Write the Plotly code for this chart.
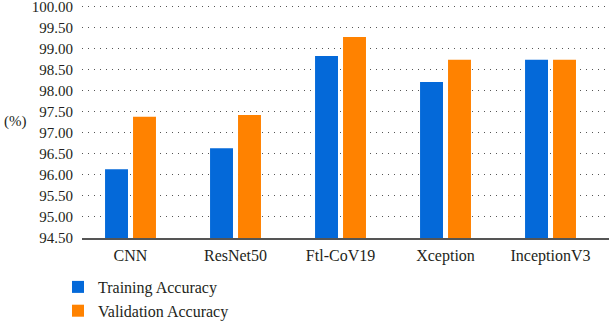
import plotly.graph_objects as go

categories = ["CNN", "ResNet50", "Ftl-CoV19", "Xception", "InceptionV3"]
training = [96.13, 96.63, 98.82, 98.20, 98.73]
validation = [97.38, 97.42, 99.27, 98.73, 98.73]
series_names = ["Training Accuracy", "Validation Accuracy"]
colors = ["#0469D9", "#FF8200"]
y_ticks = [94.5 + 0.5 * i for i in range(12)]

FONT = "Liberation Serif"
TXT = "#231f20"

fig = go.Figure()
for name, vals, col in zip(series_names, [training, validation], colors):
    fig.add_trace(go.Bar(x=categories, y=vals, name=name, marker=dict(color=col, line=dict(width=0))))

fig.update_layout(
    width=609, height=321,
    margin=dict(l=82, r=0, t=5, b=83, autoexpand=False),
    paper_bgcolor="white", plot_bgcolor="white",
    barmode="group", bargap=0.467, bargroupgap=0.18,
    font=dict(family=FONT, size=15, color=TXT),
    showlegend=True,
    legend=dict(orientation="v", xref="container", yref="container",
                x=58/609, xanchor="left", y=1 - 270/321, yanchor="top",
                font=dict(family=FONT, size=16, color=TXT),
                itemwidth=30, tracegroupgap=0, bgcolor="rgba(0,0,0,0)"),
    annotations=[dict(text="(%)", xref="paper", yref="paper", x=-80/527, y=0.5,
                      xanchor="left", yanchor="middle", showarrow=False,
                      font=dict(family=FONT, size=15, color=TXT))],
)
fig.update_xaxes(range=[-0.462, 4.557], showline=True, linecolor="#555555", linewidth=2,
                 showgrid=False, ticks="", automargin=False,
                 tickfont=dict(family=FONT, size=16, color=TXT), ticklabelstandoff=2)
fig.update_yaxes(range=[94.5, 100.03], tickvals=y_ticks, tickformat=".2f", showline=False,
                 showgrid=True, gridcolor="#555555", gridwidth=1, griddash="1px,5px",
                 zeroline=False, ticks="", automargin=False, ticklabeloverflow="allow",
                 tickfont=dict(family=FONT, size=15, color=TXT), ticklabelstandoff=8)

fig.write_html("out.html", config={"displayModeBar": False},
               post_script="document.body.style.margin='0';")
